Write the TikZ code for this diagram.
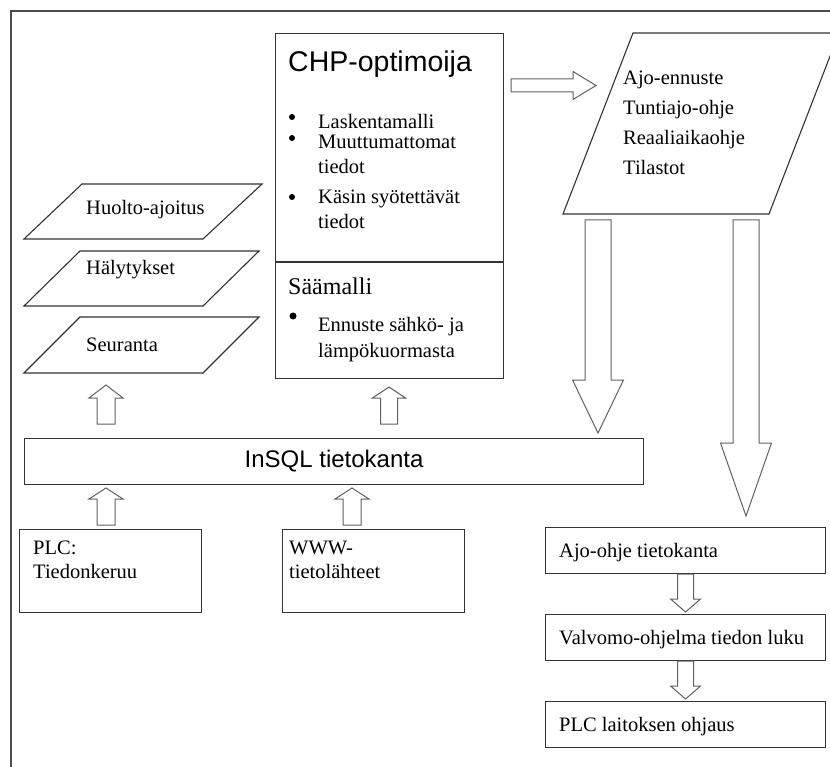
\documentclass[tikz,border=0pt]{standalone}
\usepackage{fontspec}
\setmainfont{Liberation Serif}
\newfontfamily\arialfont{Liberation Sans}
\usetikzlibrary{calc}

\tikzset{
  frameline/.style={draw=black!70, line width=1.4pt},
  outline/.style={draw=black!80, line width=1.1pt, fill=white},
  boxnode/.style={outline, rectangle, anchor=north west, inner sep=0pt},
  txt/.style={anchor=base west, inner sep=0pt, font=\fontsize{20.5}{24}\selectfont},
  bigtxt/.style={anchor=base west, inner sep=0pt, font=\fontsize{24}{28}\selectfont},
  sanstitle/.style={anchor=base west, inner sep=0pt, font=\arialfont\fontsize{28.5}{32}\selectfont},
  blockarrow/.style={draw=black!62, line width=1pt, fill=white, line join=miter},
  bulletdot/.style={fill=black, circle, inner sep=0pt, minimum size=6pt}
}

% hollow block arrow from #1 to #2: shaft half width #3, head half width #4, head length #5
\newcommand\blockarrow[5]{%
  \coordinate (#1-hb) at ($(#2)!#5!(#1)$);
  \draw[blockarrow]
    ($(#1)!#3!90:(#2)$) -- ($(#1-hb)!#3!90:(#2)$) -- ($(#1-hb)!#4!90:(#2)$)
    -- (#2)
    -- ($(#1-hb)!#4!-90:(#2)$) -- ($(#1-hb)!#3!-90:(#2)$) -- ($(#1)!#3!-90:(#2)$)
    -- cycle;
}

\begin{document}
\begin{tikzpicture}[x=1pt,y=-1pt]
\useasboundingbox (0,0) rectangle (830,767);
\clip (0,0) rectangle (830,767);
\fill[white] (0,0) rectangle (830,767);

% outer frame
\draw[frameline] (840,11) -- (11,11) -- (11,780);

% CHP optimiser block
\node[boxnode, minimum width=228pt, minimum height=345pt] (chp) at (275,33) {};
\draw[outline] (275,262) coordinate (divl) -- (503,262) coordinate (divr);
\node[sanstitle] (chptitle) at (288,72) {CHP-optimoija};
\node[bulletdot] (b1) at (292,117) {};
\node[bulletdot] (b2) at (292,138) {};
\node[bulletdot] (b3) at (292,197) {};
\node[txt] (l1) at (318,129) {Laskentamalli};
\node[txt] (l2) at (318,149) {Muuttumattomat};
\node[txt] (l3) at (318,174) {tiedot};
\node[txt] (l4) at (318,204) {Käsin syötettävät};
\node[txt] (l5) at (318,229) {tiedot};
\node[bigtxt] (saa) at (288,295) {Säämalli};
\node[bulletdot, minimum size=7pt] (b4) at (293,316) {};
\node[txt] (l6) at (318,332) {Ennuste sähkö- ja};
\node[txt] (l7) at (318,357) {lämpökuormasta};

% output parallelogram
\draw[outline] (563,214) -- (633,33) -- (839,33) -- (769,214) -- cycle;
\node[txt] (o1) at (623,85) {Ajo-ennuste};
\node[txt] (o2) at (623,115) {Tuntiajo-ohje};
\node[txt] (o3) at (623,145) {Reaaliaikaohje};
\node[txt] (o4) at (623,175) {Tilastot};

% monitoring outputs
\draw[outline] (24,239) -- (82,184) -- (262,184) -- (203,239) -- cycle;
\node[txt] (huolto) at (86,215) {Huolto-ajoitus};
\draw[outline] (24,306) -- (80,251) -- (259,251) -- (203,306) -- cycle;
\node[txt] (haly) at (86,275) {Hälytykset};
\draw[outline] (24,373) -- (80,317) -- (259,317) -- (203,373) -- cycle;
\node[txt] (seur) at (86,352) {Seuranta};

% database
\node[boxnode, minimum width=619pt, minimum height=46pt] (insql) at (24,438) {};
\node[anchor=center, inner sep=0pt, font=\arialfont\fontsize{24}{28}\selectfont] (insqltxt) at (insql.center) {InSQL tietokanta};

% data sources
\node[boxnode, minimum width=182pt, minimum height=83pt] (plc) at (19,529) {};
\node[txt] (plc1) at (33,554) {PLC:};
\node[txt] (plc2) at (33,578) {Tiedonkeruu};
\node[boxnode, minimum width=182pt, minimum height=83pt] (www) at (282,529) {};
\node[txt] (www1) at (289,554) {WWW-};
\node[txt] (www2) at (289,578) {tietolähteet};

% control chain
\node[boxnode, minimum width=280pt, minimum height=46pt] (ajo) at (545,527) {};
\node[txt] (ajotxt) at (559,557) {Ajo-ohje tietokanta};
\node[boxnode, minimum width=280pt, minimum height=46pt] (valv) at (545,614) {};
\node[txt] (valvtxt) at (559,644) {Valvomo-ohjelma tiedon luku};
\node[boxnode, minimum width=280pt, minimum height=46pt] (plcl) at (545,701) {};
\node[txt] (plcltxt) at (559,731) {PLC laitoksen ohjaus};

% arrow end points
\coordinate (a1s) at (106,424);  \coordinate (a1e) at (106,385);
\coordinate (a2s) at (389,424);  \coordinate (a2e) at (389,387);
\coordinate (a3s) at (106,525);  \coordinate (a3e) at (106,488);
\coordinate (a4s) at (352,525);  \coordinate (a4e) at (352,488);
\coordinate (a5s) at (511,85.5); \coordinate (a5e) at (596,85.5);
\coordinate (a6s) at (598,220);  \coordinate (a6e) at (598,433);
\coordinate (a7s) at (746,220);  \coordinate (a7e) at (746,516);
\coordinate (a8s) at ($(ajo.south)+(0,0)$);  \coordinate (a8e) at ($(valv.north)+(0,-2)$);
\coordinate (a9s) at ($(valv.south)+(0,0)$); \coordinate (a9e) at ($(plcl.north)+(0,-2)$);

\blockarrow{a1s}{a1e}{9pt}{17pt}{13pt}
\blockarrow{a2s}{a2e}{8.5pt}{16.5pt}{11pt}
\blockarrow{a3s}{a3e}{9pt}{17pt}{11pt}
\blockarrow{a4s}{a4e}{9pt}{17pt}{11pt}
\blockarrow{a5s}{a5e}{6.5pt}{14pt}{23pt}
\blockarrow{a6s}{a6e}{13pt}{25.5pt}{53pt}
\blockarrow{a7s}{a7e}{13pt}{25.5pt}{73pt}
\blockarrow{a8s}{a8e}{8pt}{15pt}{13pt}
\blockarrow{a9s}{a9e}{8pt}{15pt}{13pt}
\end{tikzpicture}
\end{document}
